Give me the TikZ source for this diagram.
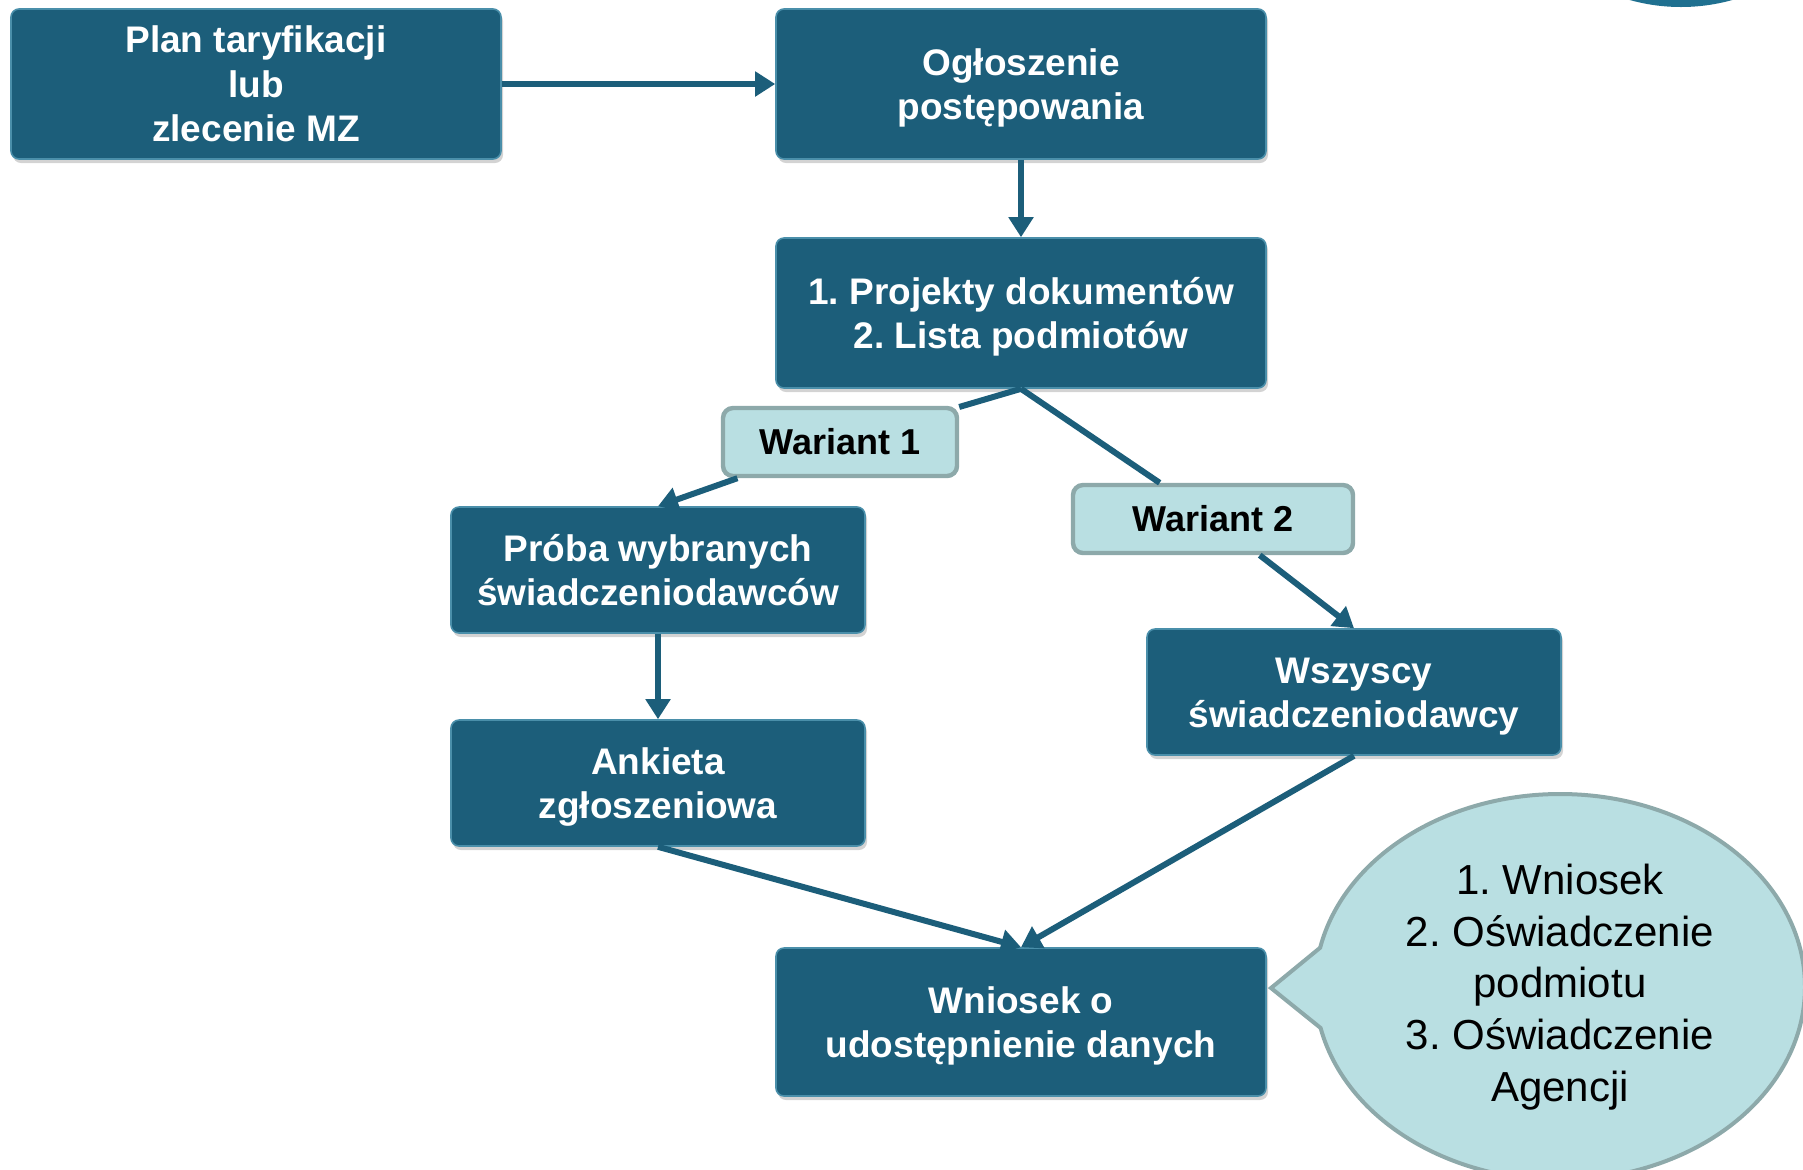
\documentclass[tikz,border=0pt]{standalone}
\usepackage{fontspec}
\setmainfont{Liberation Sans}
\usetikzlibrary{arrows.meta,shapes.callouts,shadows}
\frenchspacing
\newcommand{\topstrut}{\rule{0pt}{17.5pt}}
\definecolor{stepteal}{HTML}{1C5E7A}
\definecolor{tealedge}{HTML}{4A8FAA}
\definecolor{paleteal}{HTML}{B9DFE2}
\definecolor{palegrey}{HTML}{8DA9AA}
\definecolor{dotteal}{HTML}{1F7090}
\tikzset{
    stepbox/.style = {rectangle, rounded corners = 4pt, fill = stepteal, draw = tealedge,
        line width = 0.8pt, text = white, align = center, inner sep = 0pt,
        font = \bfseries\fontsize{18.5}{22.3}\selectfont,
        drop shadow = {shadow xshift = 1pt, shadow yshift = -2pt, opacity = 0.35}},
    varbox/.style = {rectangle, rounded corners = 5pt, fill = paleteal, draw = palegrey,
        line width = 2.2pt, inner sep = 0pt, font = \bfseries\fontsize{18}{21}\selectfont},
    flow/.style = {stepteal, line width = 3pt, -{Triangle[length = 10pt, width = 12pt]}}
}
\begin{document}
\begin{tikzpicture}[x = 0.5pt, y = -0.5pt]
        \useasboundingbox (0, 0) rectangle (1803, 1169);
        \begin{scope}
            \clip (0, 0) rectangle (1803, 1169);
            \fill [dotteal] (1681, -183) circle [radius = 95pt];
        \end{scope}
        \node [stepbox, minimum width = 245pt, minimum height = 75pt] (plan) at (256, 84)
            {Plan taryfikacji\\lub\\zlecenie MZ};
        \node [stepbox, minimum width = 245pt, minimum height = 75pt] (ogloszenie) at (1021, 84)
            {\topstrut Ogłoszenie\\postępowania};
        \node [stepbox, minimum width = 245pt, minimum height = 75pt] (projekty) at (1021, 313)
            {\topstrut 1. Projekty dokumentów\\2. Lista podmiotów};
        \node [varbox, minimum width = 117pt, minimum height = 34pt] (wariantA) at (840, 442)
            {Wariant 1};
        \node [varbox, minimum width = 140pt, minimum height = 34pt] (wariantB) at (1213, 519)
            {Wariant 2};
        \node [stepbox, minimum width = 207pt, minimum height = 63pt] (proba) at (658, 570)
            {Próba wybranych\\świadczeniodawców};
        \node [stepbox, minimum width = 207pt, minimum height = 63pt] (ankieta) at (658, 783)
            {\topstrut Ankieta\\zgłoszeniowa};
        \node [stepbox, minimum width = 207pt, minimum height = 63pt] (wszyscy) at (1354, 692)
            {\topstrut Wszyscy\\świadczeniodawcy};
        \node [stepbox, minimum width = 245pt, minimum height = 74pt] (wniosek) at (1021, 1022)
            {\topstrut Wniosek o\\udostępnienie danych};
        \coordinate (tip) at (1271, 988);
        \begin{scope}
            \clip (0, 0) rectangle (1803, 1169);
            \node [ellipse callout, fill = paleteal, draw = palegrey, line width = 2pt,
                minimum width = 245pt, minimum height = 193pt, inner sep = 0pt, align = center,
                callout absolute pointer = {(tip)}, callout pointer arc = 24,
                font = \fontsize{21}{25.9}\selectfont] (dymek) at (1560, 987)
                {1. Wniosek\\2. Oświadczenie\\podmiotu\\3. Oświadczenie\\Agencji};
        \end{scope}
        \draw [flow] (plan) -- (ogloszenie);
        \draw [flow] (ogloszenie) -- (projekty);
        \draw [flow] (projekty.south) -- (wariantA) -- (proba.north);
        \draw [flow] (projekty.south) -- (wariantB) -- (wszyscy.north);
        \draw [flow] (proba) -- (ankieta);
        \draw [flow] (ankieta.south) -- (wniosek.north);
        \draw [flow] (wszyscy.south) -- (wniosek.north);
    \end{tikzpicture}
\end{document}
